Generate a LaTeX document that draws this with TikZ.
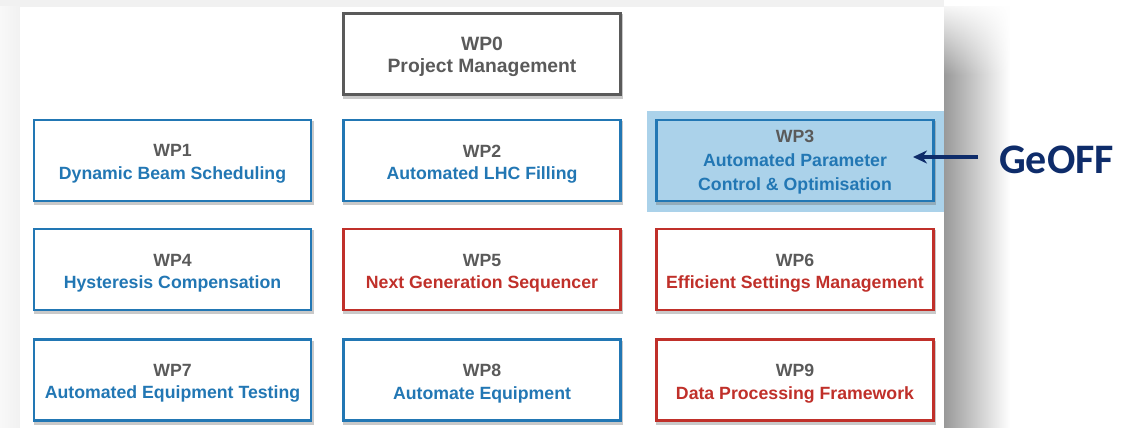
\documentclass[tikz,border=0pt]{standalone}
\usepackage{fontspec}
\setmainfont{Liberation Sans}
\newfontfamily\geofffont{Carlito}
\usetikzlibrary{arrows.meta,fadings}
\definecolor{wpgray}{HTML}{5A5A5A}
\definecolor{wpblue}{HTML}{2277B4}
\definecolor{wpred}{HTML}{C0302A}
\definecolor{hlblue}{HTML}{ABD2EA}
\definecolor{navy}{HTML}{0E2C6A}
\definecolor{pagegray}{HTML}{F1F1F1}
\tikzfading[name=fadedown, top color=transparent!0, bottom color=transparent!100]
\begin{document}
\begin{tikzpicture}[x=1pt,y=-1pt,
  wpbox/.style={draw=#1, line width=2.3pt, minimum width=277pt, minimum height=81pt,
    inner sep=0pt, fill=white,
    preaction={draw=black!60, line width=3pt, opacity=0.35, transform canvas={xshift=1pt,yshift=-2.5pt}}},
  wptext/.style={align=center, inner sep=0pt, font=\fontsize{17.7}{22.5}\selectfont\bfseries},
]
\useasboundingbox (0,0) rectangle (1137,428);
% page background
\fill[white] (0,0) rectangle (1137,428);
\fill[pagegray] (0,0) rectangle (944,7);
\shade[left color=pagegray!50, right color=pagegray] (0,7) rectangle (20,428);
\fill[white] (20,7) rectangle (944,428);
% right shadow of the panel
\shade[left color=black!40, right color=white] (944,7) rectangle (1010,428);
\fill[white, path fading=fadedown] (944,0) rectangle (1012,75);
% highlight behind WP3
\fill[hlblue] (647,111) rectangle (944,212);

% boxes
\node[wpbox=wpgray] (wp0) at (482,54) {};
\node[wpbox=wpblue] (wp1) at (172.5,160.5) {};
\node[wpbox=wpblue] (wp2) at (482,160.5) {};
\node[wpbox=wpblue, fill=hlblue] (wp3) at (795,160.5) {};
\node[wpbox=wpblue] (wp4) at (172.5,269.5) {};
\node[wpbox=wpred] (wp5) at (482,269.5) {};
\node[wpbox=wpred] (wp6) at (795,269.5) {};
\node[wpbox=wpblue] (wp7) at (172.5,380) {};
\node[wpbox=wpblue] (wp8) at (482,380) {};
\node[wpbox=wpred] (wp9) at (795,380) {};

% texts
\node[wptext, text=wpgray, font=\fontsize{19.3}{22.5}\selectfont\bfseries] (t0) at ([yshift=-3pt]wp0.center) {WP0\\Project Management};
\node[wptext] (t1) at ([yshift=-3.5pt]wp1.center)
  {\textcolor{wpgray}{WP1}\\\textcolor{wpblue}{Dynamic Beam Scheduling}};
\node[wptext] (t2) at ([yshift=-3.5pt]wp2.center)
  {\textcolor{wpgray}{WP2}\\\textcolor{wpblue}{Automated LHC Filling}};
\node[wptext, font=\fontsize{17.7}{24}\selectfont\bfseries] (t3) at ([yshift=-2pt]wp3.center)
  {\textcolor{wpgray}{WP3}\\\textcolor{wpblue}{Automated Parameter}\\\textcolor{wpblue}{Control \& Optimisation}};
\node[wptext] (t4) at ([yshift=-3.5pt]wp4.center)
  {\textcolor{wpgray}{WP4}\\\textcolor{wpblue}{Hysteresis Compensation}};
\node[wptext] (t5) at ([yshift=-3.5pt]wp5.center)
  {\textcolor{wpgray}{WP5}\\\textcolor{wpred}{Next Generation Sequencer}};
\node[wptext] (t6) at ([yshift=-3.5pt]wp6.center)
  {\textcolor{wpgray}{WP6}\\\textcolor{wpred}{Efficient Settings Management}};
\node[wptext] (t7) at ([yshift=-3.5pt]wp7.center)
  {\textcolor{wpgray}{WP7}\\\textcolor{wpblue}{Automated Equipment Testing}};
\node[wptext] (t8) at ([yshift=-3.5pt]wp8.center)
  {\textcolor{wpgray}{WP8}\\\textcolor{wpblue}{Automate Equipment}};
\node[wptext] (t9) at ([yshift=-3.5pt]wp9.center)
  {\textcolor{wpgray}{WP9}\\\textcolor{wpred}{Data Processing Framework}};

% GeOFF label and arrow
\node[anchor=west, inner sep=0pt, text=navy, font=\geofffont\fontsize{42}{42}\selectfont\bfseries]
  (geoff) at (999,160) {GeOFF};
\coordinate (tip) at (913,157);
\draw[navy, line width=3.6pt, -{Stealth[length=14pt,width=13pt]}]
  ([xshift=-21pt]geoff.west |- tip) -- (tip);
\end{tikzpicture}
\end{document}
